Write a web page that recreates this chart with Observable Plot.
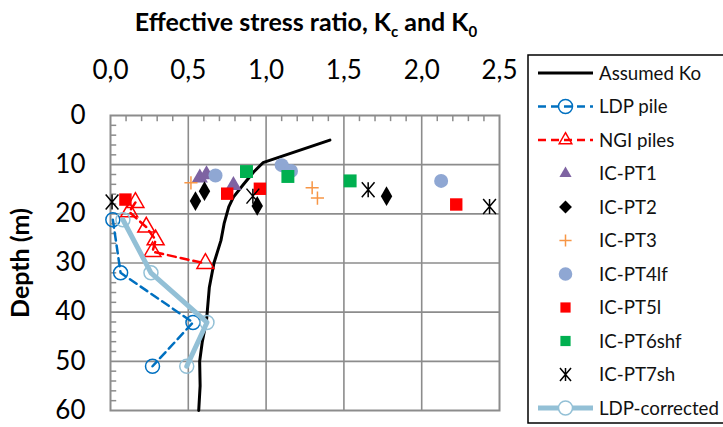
<!DOCTYPE html>
<html><head><meta charset="utf-8">
<script src="https://cdn.jsdelivr.net/npm/d3@7"></script>
<script src="https://cdn.jsdelivr.net/npm/@observablehq/plot@0.6"></script>
<style>
body{margin:0;overflow:hidden;background:#fff;}
svg{font-family:Lato,sans-serif;}
</style>
</head><body><div id="chart"></div>
<script>
// Axis ticks
const xTicks = [0, 0.5, 1, 1.5, 2, 2.5];
const yTicks = [0, 10, 20, 30, 40, 50, 60];
const xMinor = [0.1,0.2,0.3,0.4,0.6,0.7,0.8,0.9,1.1,1.2,1.3,1.4,1.6,1.7,1.8,1.9,2.1,2.2,2.3,2.4];
const yMinor = [2,4,6,8,12,14,16,18,22,24,26,28,32,34,36,38,42,44,46,48,52,54,56,58];

// Assumed Ko
const koValue = [1.41, 0.98, 0.92, 0.85, 0.79, 0.76, 0.73, 0.71, 0.665, 0.635, 0.617, 0.59, 0.573, 0.576, 0.567];
const koDepth = [5, 9.6, 11.5, 14.2, 16.6, 18.6, 22, 25.4, 30, 35, 41.7, 46, 50, 55, 60];
// LDP pile
const ldpValue = [0.015, 0.065, 0.53, 0.27];
const ldpDepth = [21.2, 32, 42.1, 51];
// NGI piles
const ngiValue = [0.16, 0.12, 0.23, 0.29, 0.27, 0.61];
const ngiDepth = [17.7, 19.6, 22.7, 25.3, 27.7, 30.1];
// IC-PT series
const pt1Value = [0.574, 0.617, 0.79];
const pt1Depth = [12.7, 12.0, 14.2];
const pt2Value = [0.604, 0.546, 0.943, 1.774];
const pt2Depth = [15.4, 17.4, 18.4, 16.4];
const pt3Value = [0.517, 1.296, 1.33];
const pt3Depth = [13.7, 14.7, 16.8];
const pt4Value = [0.675, 1.10, 1.16, 2.125];
const pt4Depth = [12.2, 10.1, 11.3, 13.3];
const pt5Value = [0.096, 0.75, 0.96, 2.222];
const pt5Depth = [17.1, 15.9, 14.9, 18.1];
const pt6Value = [0.874, 1.14, 1.54];
const pt6Depth = [11.4, 12.4, 13.3];
const pt7Value = [0.01, 0.915, 1.656, 2.436];
const pt7Depth = [17.6, 16.4, 15.1, 18.5];
// LDP-corrected
const corrValue = [0.08, 0.26, 0.62, 0.49];
const corrDepth = [21.2, 32, 42.1, 51];

const legendLabels = ["Assumed Ko","LDP pile","NGI piles","IC-PT1","IC-PT2","IC-PT3","IC-PT4lf","IC-PT5l","IC-PT6shf","IC-PT7sh","LDP-corrected"];

const rows = (xs, ds) => xs.map((x, i) => ({x, d: ds[i]}));
const ko = rows(koValue, koDepth), ldp = rows(ldpValue, ldpDepth), ngi = rows(ngiValue, ngiDepth);
const pt1 = rows(pt1Value, pt1Depth), pt2 = rows(pt2Value, pt2Depth), pt3 = rows(pt3Value, pt3Depth);
const pt4 = rows(pt4Value, pt4Depth), pt5 = rows(pt5Value, pt5Depth), pt6 = rows(pt6Value, pt6Depth);
const pt7 = rows(pt7Value, pt7Depth), corr = rows(corrValue, corrDepth);

const C = {ldp:"#0070C0", ngi:"#FF0000", pt1:"#7E63A2", pt2:"#000000", pt3:"#F79646", pt4:"#8FA7D3", pt5:"#FF0000", pt6:"#00B050", pt7:"#000000", corr:"#93C0D6", grid:"#8C8C8C"};

const star = {draw(ctx, size){ const r = Math.sqrt(size/Math.PI); const u = r*0.85;
  ctx.moveTo(-u,-r); ctx.lineTo(u,r); ctx.moveTo(-u,r); ctx.lineTo(u,-r); ctx.moveTo(0,-r); ctx.lineTo(0,r);} };

const fmt = d => d.toFixed(1).replace(".", ",");

const chart = Plot.plot({
  width: 723, height: 427,
  marginLeft: 110, marginRight: 224, marginTop: 115, marginBottom: 17,
  style: {fontFamily: "Lato, sans-serif", fontSize: "26px", color: "#000", background: "#fff", overflow: "visible"},
  x: {domain: [0, 2.5]},
  y: {domain: [0, 60], reverse: true},
  marks: [
    Plot.gridX(xTicks.slice(1, -1), {stroke: C.grid, strokeOpacity: 1, strokeWidth: 1.6}),
    Plot.gridY(yTicks.slice(1, -1), {stroke: C.grid, strokeOpacity: 1, strokeWidth: 1.6}),
    Plot.ruleX(xMinor, {y1: 0, y2: 1.25, stroke: C.grid, strokeWidth: 1.5}),
    Plot.ruleY(yMinor, {x1: 0, x2: 0.04, stroke: C.grid, strokeWidth: 1.5}),
    Plot.frame({stroke: C.grid, strokeWidth: 2}),
    Plot.axisX(xTicks, {anchor: "top", tickSize: 0, tickPadding: 37, tickFormat: fmt, label: null}),
    Plot.axisY(yTicks, {anchor: "left", tickSize: 0, tickPadding: 25, label: null}),
    Plot.line(ko, {x: "x", y: "d", stroke: "#000", strokeWidth: 3}),
    Plot.line(ldp, {x: "x", y: "d", stroke: C.ldp, strokeWidth: 2.5, strokeDasharray: "8,5"}),
    Plot.dot(ldp, {x: "x", y: "d", symbol: "circle", r: 7, fill: "none", stroke: C.ldp, strokeWidth: 1.5}),
    Plot.line(ngi, {x: "x", y: "d", stroke: C.ngi, strokeWidth: 2.5, strokeDasharray: "8,5"}),
    Plot.dot(ngi, {x: "x", y: "d", symbol: "triangle", r: 6.3, fill: "none", stroke: C.ngi, strokeWidth: 1.5}),
    Plot.dot(pt1, {x: "x", y: "d", symbol: "triangle", r: 6, fill: C.pt1, stroke: "none"}),
    Plot.dot(pt2, {x: "x", y: "d", symbol: "diamond", r: 6, fill: C.pt2, stroke: "none"}),
    Plot.dot(pt3, {x: "x", y: "d", symbol: "plus", r: 4.3, fill: "none", stroke: C.pt3, strokeWidth: 1.5}),
    Plot.dot(pt4, {x: "x", y: "d", symbol: "circle", r: 7, fill: C.pt4, stroke: "none"}),
    Plot.dot(pt5, {x: "x", y: "d", symbol: "square", r: 7, fill: C.pt5, stroke: "none"}),
    Plot.dot(pt6, {x: "x", y: "d", symbol: "square", r: 7.3, fill: C.pt6, stroke: "none"}),
    Plot.dot(pt7, {x: "x", y: "d", symbol: star, r: 7.5, fill: "none", stroke: C.pt7, strokeWidth: 1.5}),
    Plot.line(corr, {x: "x", y: "d", stroke: C.corr, strokeWidth: 5}),
    Plot.dot(corr, {x: "x", y: "d", symbol: "circle", r: 7, fill: "none", stroke: C.corr, strokeWidth: 1.5})
  ]
});
document.getElementById("chart").append(chart);

const svg = d3.select(chart);
// Title
const t = svg.append("text").attr("x", 306).attr("y", 31).attr("text-anchor", "middle")
  .attr("font-size", 25).attr("font-weight", "bold").attr("fill", "#000");
t.append("tspan").text("Effective stress ratio, K");
t.append("tspan").attr("font-size", 15).attr("dy", 6).text("c");
t.append("tspan").attr("dy", -6).text(" and K");
t.append("tspan").attr("font-size", 15).attr("dy", 6).text("0");
// Y label
svg.append("text").attr("transform", "translate(29,263) rotate(-90)").attr("text-anchor", "middle")
  .attr("font-size", 25).attr("font-weight", "bold").attr("fill", "#000").text("Depth (m)");

// Legend
const lg = svg.append("g").attr("text-anchor", "start");
lg.append("rect").attr("x", 528).attr("y", 55).attr("width", 220).attr("height", 368)
  .attr("fill", "#fff").attr("stroke", "#000").attr("stroke-width", 1.5);
const sym = (type, r) => d3.symbol().type(type).size(Math.PI * r * r)();
const entries = [
  {line: {stroke: "#000", w: 3}},
  {line: {stroke: C.ldp, w: 2.5, dash: "8,5"}, s: {type: d3.symbolCircle, r: 7, fill: "none", stroke: C.ldp}},
  {line: {stroke: C.ngi, w: 2.5, dash: "8,5"}, s: {type: d3.symbolTriangle2, r: 6, fill: "none", stroke: C.ngi}},
  {s: {type: d3.symbolTriangle2, r: 5.8, fill: C.pt1}},
  {s: {type: d3.symbolDiamond2, r: 5.8, fill: C.pt2}},
  {s: {type: d3.symbolPlus, r: 4, fill: "none", stroke: C.pt3}},
  {s: {type: d3.symbolCircle, r: 6.8, fill: C.pt4}},
  {s: {type: d3.symbolSquare2, r: 6.5, fill: C.pt5}},
  {s: {type: d3.symbolSquare2, r: 6.5, fill: C.pt6}},
  {s: {type: star, r: 6.5, fill: "none", stroke: C.pt7}},
  {line: {stroke: C.corr, w: 5}, s: {type: d3.symbolCircle, r: 7, fill: "#fff", stroke: C.corr}}
];
entries.forEach((e, i) => {
  const y = 73 + i * 33.5;
  if (e.line) lg.append("line").attr("x1", 538).attr("x2", 593).attr("y1", y).attr("y2", y)
    .attr("stroke", e.line.stroke).attr("stroke-width", e.line.w).attr("stroke-dasharray", e.line.dash || null);
  if (e.s) lg.append("path").attr("d", sym(e.s.type, e.s.r)).attr("transform", `translate(565.5,${y})`)
    .attr("fill", e.s.fill).attr("stroke", e.s.stroke || "none").attr("stroke-width", 1.5);
  lg.append("text").attr("x", 599).attr("y", y).attr("dy", "0.36em").attr("font-size", 18.7)
    .attr("text-anchor", "start").attr("fill", "#111").text(legendLabels[i]);
});
</script>
</body></html>
